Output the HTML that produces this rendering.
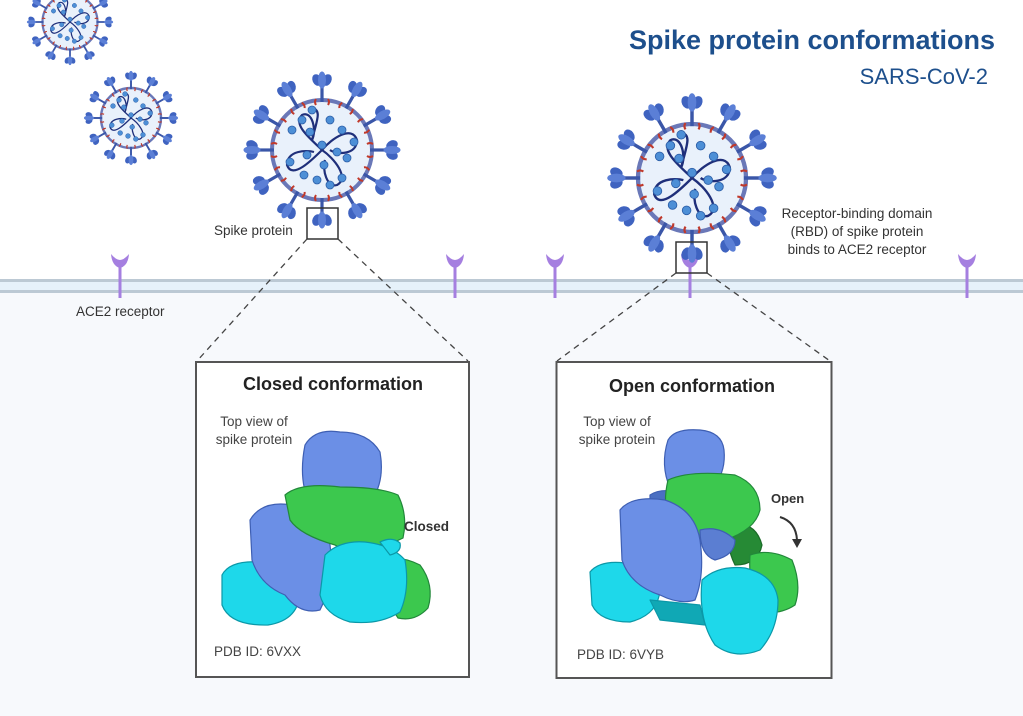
<!DOCTYPE html>
<html><head><meta charset="utf-8"><style>
html,body{margin:0;padding:0;background:#fff}
svg{display:block}
text{font-family:"Liberation Sans",sans-serif}
</style></head><body>
<svg width="1023" height="716" viewBox="0 0 1023 716" xmlns="http://www.w3.org/2000/svg">
<defs>
<g id="spike">
  <rect x="-1.6" y="-64" width="3.2" height="16" fill="#3a56a8"/>
  <ellipse cx="-5" cy="-70" rx="4.5" ry="6" fill="#3f63c0" transform="rotate(-25 -5 -70)"/>
  <ellipse cx="5" cy="-70" rx="4.5" ry="6" fill="#3f63c0" transform="rotate(25 5 -70)"/>
  <ellipse cx="0" cy="-70" rx="4" ry="8.5" fill="#5b7fd6"/>
  <path d="M-6 -51 q-2 3 0 6 M6 -51 q2 3 0 6" stroke="#c0392b" stroke-width="2" fill="none"/>
</g>
<g id="virus">
  <circle r="50" fill="#e9f1fb" stroke="#6a78b8" stroke-width="4"/>
  <use href="#spike" transform="rotate(0)"/><use href="#spike" transform="rotate(30)"/>
  <use href="#spike" transform="rotate(60)"/><use href="#spike" transform="rotate(90)"/>
  <use href="#spike" transform="rotate(120)"/><use href="#spike" transform="rotate(150)"/>
  <use href="#spike" transform="rotate(180)"/><use href="#spike" transform="rotate(210)"/>
  <use href="#spike" transform="rotate(240)"/><use href="#spike" transform="rotate(270)"/>
  <use href="#spike" transform="rotate(300)"/><use href="#spike" transform="rotate(330)"/>
  <g fill="none" stroke="#1f2f7a" stroke-width="2.2">
    <path d="M0 0 C-10 -10 -30 -25 -20 -35 C-10 -40 -5 -20 -10 -10"/>
    <path d="M0 0 C10 -12 30 -25 35 -10 C35 5 15 5 8 0"/>
    <path d="M0 0 C12 8 28 28 15 35 C5 38 0 20 3 10"/>
    <path d="M0 0 C-10 10 -30 30 -35 15 C-35 0 -15 0 -8 2"/>
    <path d="M-10 -10 C-5 -30 0 -40 -10 -42"/>
  </g>
  <g fill="#4d8fd6" stroke="#2d5fa8" stroke-width="0.8">
    <circle cx="-20" cy="-30" r="4"/><circle cx="-30" cy="-20" r="4"/><circle cx="-12" cy="-18" r="4"/>
    <circle cx="-10" cy="-40" r="4"/><circle cx="20" cy="-20" r="4"/><circle cx="32" cy="-8" r="4"/>
    <circle cx="15" cy="2" r="4"/><circle cx="25" cy="8" r="4"/><circle cx="20" cy="28" r="4"/>
    <circle cx="8" cy="35" r="4"/><circle cx="2" cy="15" r="4"/><circle cx="-18" cy="25" r="4"/>
    <circle cx="-32" cy="12" r="4"/><circle cx="-15" cy="5" r="4"/><circle cx="0" cy="-5" r="4"/>
    <circle cx="8" cy="-30" r="4"/><circle cx="-5" cy="30" r="4"/>
  </g>
</g>
<g id="ace2">
  <rect x="-1.5" y="0" width="3" height="34" fill="#a57fe0"/>
  <path d="M-9 -10 Q-8 2 0 4 Q8 2 9 -10 Q4 -4 0 -4 Q-4 -4 -9 -10Z" fill="#a57fe0"/>
</g>
</defs>

<rect x="0" y="292" width="1023" height="424" fill="#f7f9fc"/>
<rect x="0" y="281" width="1023" height="11" fill="#e6f1fa"/>
<rect x="0" y="279" width="1023" height="3" fill="#bcc9d4"/>
<rect x="0" y="290" width="1023" height="3" fill="#bcc9d4"/>

<use href="#ace2" transform="translate(120,264)"/>
<use href="#ace2" transform="translate(455,264)"/>
<use href="#ace2" transform="translate(555,264)"/>
<use href="#ace2" transform="translate(967,264)"/>
<use href="#ace2" transform="translate(690,264)"/>

<use href="#virus" transform="translate(70,22) scale(0.55)"/>
<use href="#virus" transform="translate(131,118) scale(0.6)"/>
<use href="#virus" transform="translate(322,150) scale(1.0)"/>
<use href="#virus" transform="translate(692,178) scale(1.08)"/>

<text x="995" y="49" text-anchor="end" font-size="27" font-weight="bold" fill="#1d4f8c">Spike protein conformations</text>
<text x="988" y="84" text-anchor="end" font-size="22" fill="#1d4f8c">SARS-CoV-2</text>

<text x="214" y="235" font-size="13.5" fill="#333">Spike protein</text>
<text x="76" y="316" font-size="13.5" fill="#333">ACE2 receptor</text>
<g font-size="13.5" fill="#333" text-anchor="middle">
<text x="857" y="218">Receptor-binding domain</text>
<text x="857" y="236">(RBD) of spike protein</text>
<text x="857" y="254">binds to ACE2 receptor</text>
</g>

<rect x="307" y="208" width="31" height="31" fill="none" stroke="#333" stroke-width="1.5"/>
<rect x="676" y="242" width="31" height="31" fill="none" stroke="#333" stroke-width="1.5"/>
<g stroke="#444" stroke-width="1.3" stroke-dasharray="6,5">
<line x1="307" y1="239" x2="197" y2="361"/>
<line x1="338" y1="239" x2="468" y2="361"/>
<line x1="676" y1="273" x2="557" y2="361"/>
<line x1="707" y1="273" x2="830" y2="361"/>
</g>

<rect x="196" y="362" width="273" height="315" fill="#fff" stroke="#555" stroke-width="2"/>
<rect x="556.5" y="362" width="275" height="316" fill="#fff" stroke="#555" stroke-width="2"/>

<!-- closed protein -->
<g stroke-width="1.2" stroke-linejoin="round">
<path d="M305 445 Q315 428 340 432 Q368 432 380 452 Q385 480 372 500 L310 505 Q298 480 305 445Z" fill="#6b8fe6" stroke="#3e5fb3"/>
<path d="M222 575 Q230 560 260 562 Q295 565 300 590 Q300 620 268 625 Q230 626 222 605Z" fill="#1ed8ea" stroke="#0b98a8"/>
<path d="M250 520 Q262 500 292 505 Q325 515 330 545 Q335 580 320 610 Q300 615 285 595 Q260 585 252 560Z" fill="#6b8fe6" stroke="#3e5fb3"/>
<path d="M285 495 Q300 482 340 487 Q380 487 398 495 Q408 515 403 538 Q390 545 375 545 Q350 555 335 545 Q300 535 290 520Z" fill="#3cc84e" stroke="#22883a"/>
<path d="M385 560 Q400 555 420 565 Q435 585 428 608 Q415 622 398 618 Q385 600 385 560Z" fill="#3cc84e" stroke="#22883a"/>
<path d="M325 555 Q340 540 365 542 Q392 545 405 560 Q410 590 400 612 Q380 625 350 622 Q325 615 320 595Z" fill="#1ed8ea" stroke="#0b98a8"/>
<path d="M380 542 Q392 536 400 543 Q402 552 390 555Z" fill="#1ed8ea" stroke="#0b98a8"/>
</g>

<!-- open protein -->
<g stroke-width="1.2" stroke-linejoin="round">
<path d="M668 440 Q675 428 700 430 Q722 432 724 450 Q726 470 715 485 L670 488 Q660 465 668 440Z" fill="#6b8fe6" stroke="#3e5fb3"/>
<path d="M650 495 Q660 488 680 492 L680 510 L650 510Z" fill="#4a6fc2" stroke="#3e5fb3"/>
<path d="M730 525 Q755 520 762 545 Q758 565 735 565 Q725 545 730 525Z" fill="#268a35" stroke="#1b6b28"/>
<path d="M750 555 Q770 548 792 560 Q802 585 795 605 Q780 615 760 612 Q748 590 750 555Z" fill="#3cc84e" stroke="#22883a"/>
<path d="M668 480 Q690 470 735 475 Q760 485 760 510 Q755 530 725 540 Q690 545 670 530 Q662 505 668 480Z" fill="#3cc84e" stroke="#22883a"/>
<path d="M700 530 Q720 525 735 540 Q735 555 715 560 Q700 555 700 530Z" fill="#5b7ed2" stroke="#3e5fb3"/>
<path d="M590 572 Q600 560 625 563 Q655 568 660 590 Q658 615 630 622 Q600 622 592 605Z" fill="#1ed8ea" stroke="#0b98a8"/>
<path d="M620 510 Q632 495 665 500 Q695 510 700 540 Q705 575 695 600 Q680 605 660 595 Q630 585 622 560Z" fill="#6b8fe6" stroke="#3e5fb3"/>
<path d="M702 580 Q718 565 745 568 Q775 575 778 600 Q778 630 760 650 Q735 660 715 645 Q698 620 702 580Z" fill="#1ed8ea" stroke="#0b98a8"/>
<path d="M650 600 L700 605 L705 625 L660 620Z" fill="#10a8b5" stroke="#0b98a8"/>
</g>

<text x="333" y="390" text-anchor="middle" font-size="18" font-weight="bold" fill="#222">Closed conformation</text>
<text x="692" y="392" text-anchor="middle" font-size="18" font-weight="bold" fill="#222">Open conformation</text>
<g font-size="13.5" fill="#444" text-anchor="middle">
<text x="254" y="426">Top view of</text><text x="254" y="444">spike protein</text>
<text x="617" y="426">Top view of</text><text x="617" y="444">spike protein</text>
</g>
<text x="214" y="656" font-size="13.5" fill="#444">PDB ID: 6VXX</text>
<text x="577" y="659" font-size="13.5" fill="#444">PDB ID: 6VYB</text>
<text x="404" y="531" font-size="13.5" font-weight="bold" fill="#333">Closed</text>
<text x="771" y="503" font-size="13" font-weight="bold" fill="#333">Open</text>
<path d="M780 517 Q796 522 797 540" fill="none" stroke="#333" stroke-width="2"/>
<path d="M792 539 L797 548 L802 539Z" fill="#333"/>
</svg>
</body></html>
